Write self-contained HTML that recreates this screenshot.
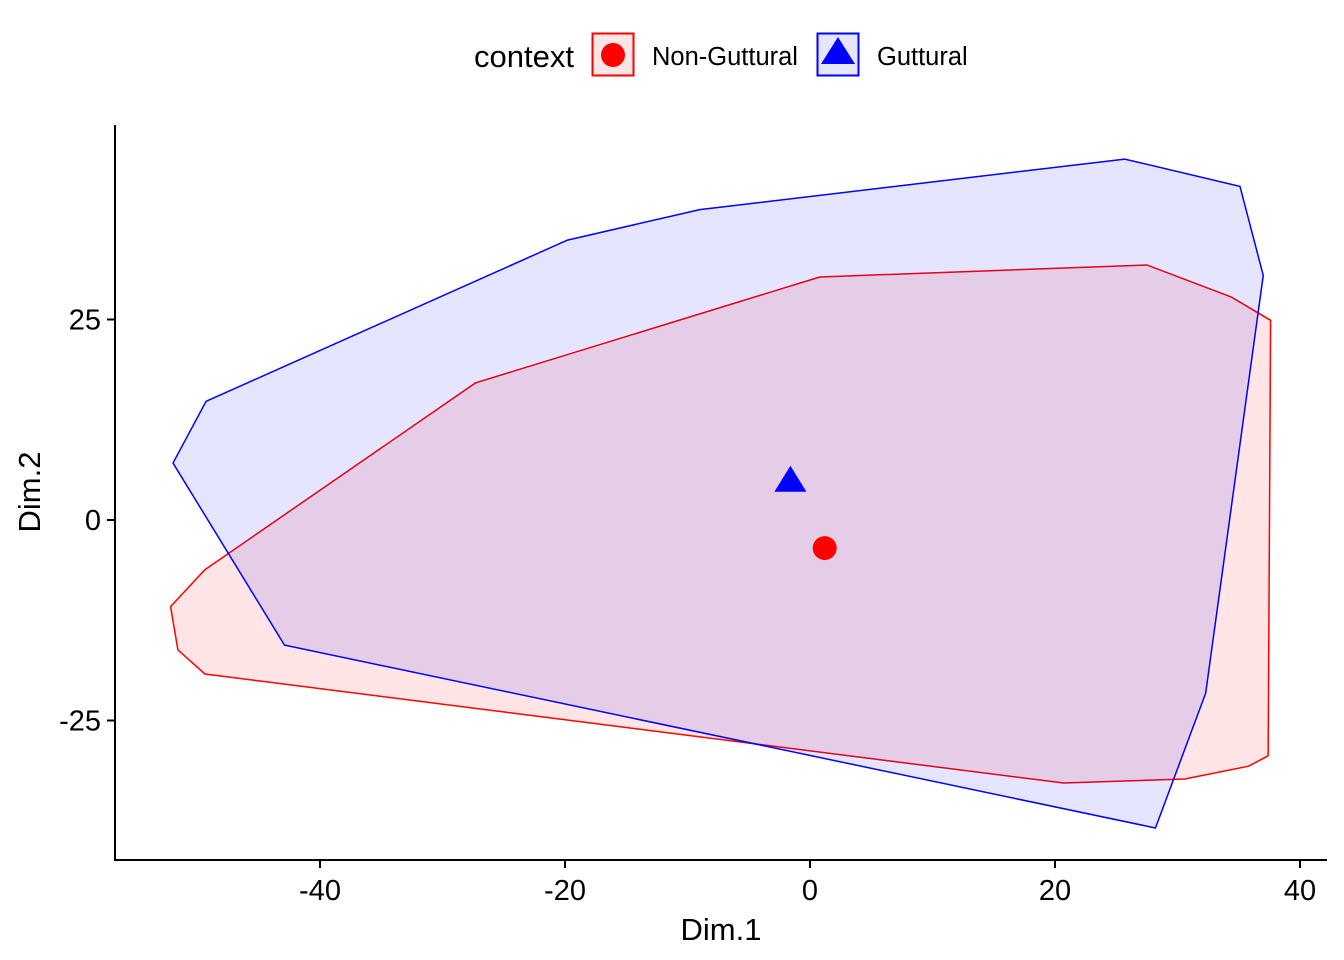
<!DOCTYPE html>
<html><head><meta charset="utf-8"><style>
body{margin:0;background:#fff;}
svg{display:block;font-family:"Liberation Sans",sans-serif;}
</style></head><body>
<svg id="chart" width="1344" height="960">
<g>
<text x="474" y="67" font-size="31">context</text>
<g>
<rect x="592.5" y="33.5" width="41" height="42" fill="#ffe5e5" stroke="#ff0000" stroke-width="2"/>
<circle cx="613" cy="55" r="12" fill="#ff0000"/>
<text x="652" y="65" font-size="25.5">Non-Guttural</text></g>
<g>
<rect x="817.5" y="33.5" width="41" height="42" fill="#e5e5ff" stroke="#0000ff" stroke-width="2"/>
<polygon points="838,37 855,64 821,64" fill="#0000ff"/>
<text x="877" y="65" font-size="25.5">Guttural</text></g>
</g>
<g id="plot"></g>
<g id="axes"></g>
</svg>
<script>
const xTicks=[-40,-20,0,20,40];
const yTicks=[-25,0,25];
const blueX=[-52.0,-49.3,-19.8,-9.0,25.7,35.1,37.0,32.3,28.2,-42.9];
const blueY=[7.1,14.8,34.9,38.7,45.0,41.6,30.5,-21.6,-38.4,-15.6];
const redX=[-52.2,-51.6,-49.4,20.7,30.6,35.8,37.4,37.6,34.4,27.5,0.8,-27.3,-49.4];
const redY=[-10.8,-16.2,-19.2,-32.8,-32.3,-30.7,-29.4,24.9,27.8,31.8,30.3,17.1,-6.2];
const centroidX=[1.2,-1.6];
const centroidY=[-3.5,4.9];
const NS='http://www.w3.org/2000/svg';
function sx(v){return 810+v*12.25;}
function sy(v){return 520-v*8.02;}
const plot=document.getElementById('plot'),axes=document.getElementById('axes');
function mk(t,a,p){const e=document.createElementNS(NS,t);for(const k in a)e.setAttribute(k,a[k]);p.appendChild(e);return e;}
function poly(xs,ys,fill,stroke,name){
 const pts=xs.map((x,i)=>sx(x)+','+sy(ys[i])).join(' ');
 const e=mk('polygon',{points:pts,fill:fill,stroke:stroke,'stroke-width':1.5},plot);
 
 
}
poly(redX,redY,'rgba(255,0,0,0.1)','#ff0000','hull-non-guttural');
poly(blueX,blueY,'rgba(0,0,255,0.1)','#0000ff','hull-guttural');
const c=mk('circle',{cx:sx(centroidX[0]),cy:sy(centroidY[0]),r:12,fill:'#ff0000'},plot);


const tx=sx(centroidX[1]),ty=sy(centroidY[1]);
const t=mk('polygon',{points:`${tx},${ty-15} ${tx+16},${ty+11} ${tx-16},${ty+11}`,fill:'#0000ff'},plot);


mk('line',{x1:115,y1:125,x2:115,y2:861,stroke:'#000','stroke-width':2},axes);
mk('line',{x1:114,y1:860,x2:1327,y2:860,stroke:'#000','stroke-width':2},axes);
xTicks.forEach(v=>{
 mk('line',{x1:sx(v),y1:860,x2:sx(v),y2:868,stroke:'#000','stroke-width':2},axes);
 const e=mk('text',{x:sx(v),y:900,'font-size':29,'text-anchor':'middle',fill:'#000'},axes);
 e.textContent=v;
 
 
});
yTicks.forEach(v=>{
 mk('line',{x1:107,y1:sy(v),x2:115,y2:sy(v),stroke:'#000','stroke-width':2},axes);
 const e=mk('text',{x:101,y:sy(v)+10,'font-size':29,'text-anchor':'end',fill:'#000'},axes);
 e.textContent=v;
 
 
});
const xt=mk('text',{x:721,y:940,'font-size':31,'text-anchor':'middle'},axes);
xt.textContent='Dim.1';


const yt=mk('text',{x:40,y:492,'font-size':31,'text-anchor':'middle',transform:'rotate(-90 40 492)'},axes);
yt.textContent='Dim.2';


</script>
</body></html>
